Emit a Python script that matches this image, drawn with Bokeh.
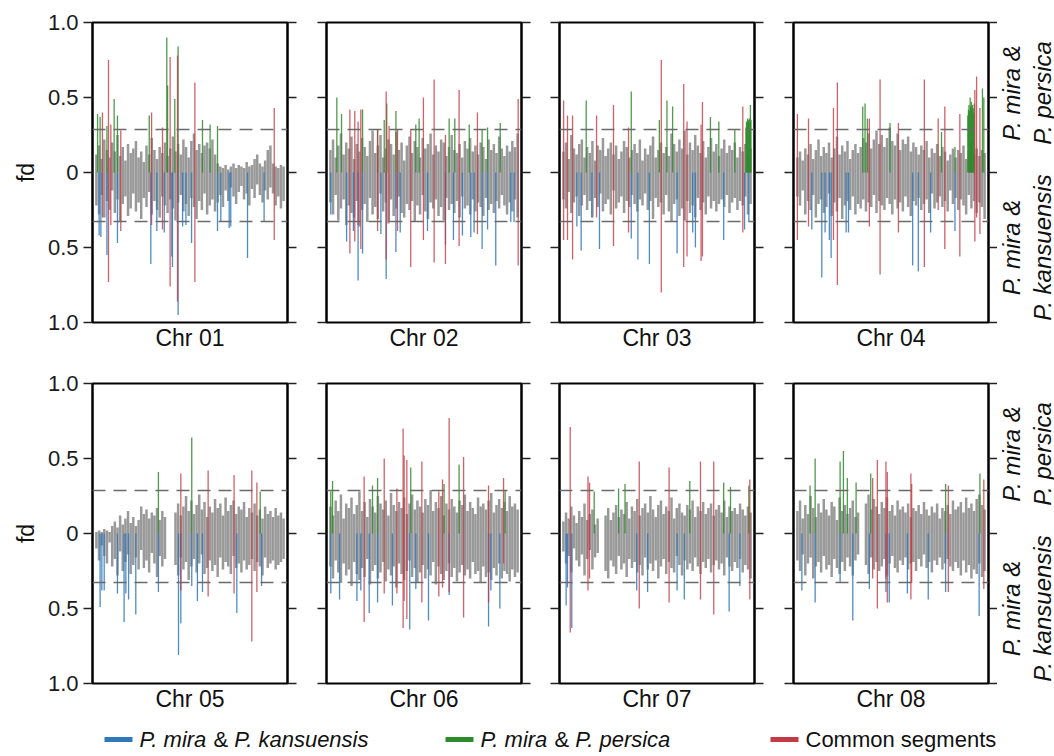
import math
from bokeh.plotting import figure
from bokeh.layouts import column, row
from bokeh.models import Range1d, FixedTicker, Span, LinearAxis
from bokeh.core.properties import value
from bokeh.embed import file_html
from bokeh.resources import INLINE

FONT = "Liberation Sans"
CHROMS = ["Chr 01", "Chr 02", "Chr 03", "Chr 04", "Chr 05", "Chr 06", "Chr 07", "Chr 08"]
Y_TICKS = [-1.0, -0.5, 0.0, 0.5, 1.0]
Y_TICK_LABELS = ["1.0", "0.5", "0", "0.5", "1.0"]
THR_PERSICA = 0.287   # upper dashed threshold
THR_KANSU = 0.327     # lower dashed threshold

BLUE = "#2f78bb"
GREEN = "#2f8a2c"
RED = "#c43a44"
GRAY = "#808080"

# ---- background windows: fd(P. mira & P. persica) up, fd(P. mira & P. kansuensis) down ----
c01_per = [.12,.18,.09,.22,.15,.10,.20,.14,.25,.11,.17,.08,.19,.13,.16,.21,.10,.14,.07,.18,.12,.23,.15,.09,.17,.13,.20,.11,.16,.24,.14,.19,.12,.22,.17,.10,.21,.26,.15,.19,.13,.18,.20,.16,.22,.12,.06,.04,.03,.05,.02,.04,.06,.03,.05,.04,.03,.07,.04,.05,.09,.12,.06,.04,.08,.15,.18,.06,.04,.03,.05,.04]
c01_kan = [.22,.28,.15,.30,.19,.25,.12,.27,.18,.33,.21,.16,.29,.24,.14,.26,.20,.31,.17,.23,.13,.28,.19,.25,.30,.16,.22,.27,.18,.24,.32,.20,.15,.26,.21,.29,.17,.23,.31,.19,.25,.14,.28,.22,.18,.26,.20,.15,.23,.12,.19,.10,.16,.21,.13,.09,.18,.14,.22,.11,.17,.08,.15,.20,.12,.18,.10,.14,.22,.16,.24,.19]
c02_per = [.15,.22,.10,.18,.26,.12,.20,.16,.24,.09,.19,.14,.23,.17,.11,.21,.28,.13,.18,.25,.10,.16,.22,.19,.12,.27,.15,.20,.08,.18,.24,.13,.21,.17,.10,.23,.16,.19,.26,.12,.18,.14,.22,.20,.11,.17,.25,.15,.13,.19,.10,.21,.16,.23,.14,.18,.12,.20,.17,.09,.22,.15,.19,.13,.24,.16,.11,.18,.14,.21,.17,.26]
c02_kan = [.20,.28,.15,.32,.24,.18,.35,.22,.27,.30,.19,.36,.25,.21,.33,.17,.28,.23,.31,.14,.26,.20,.34,.18,.29,.24,.16,.27,.30,.21,.25,.19,.33,.22,.28,.15,.26,.31,.20,.24,.18,.29,.23,.32,.17,.25,.21,.27,.19,.30,.16,.24,.22,.28,.18,.26,.20,.23,.29,.17,.25,.21,.27,.19,.24,.15,.22,.28,.20,.26,.18,.30]
c03_per = [.14,.20,.09,.25,.16,.12,.19,.22,.10,.17,.13,.21,.08,.18,.15,.23,.11,.16,.20,.12,.18,.09,.14,.21,.17,.10,.15,.19,.13,.22,.08,.16,.12,.18,.24,.10,.15,.20,.13,.17,.11,.26,.19,.14,.22,.16,.28,.12,.20,.15,.25,.18,.13,.21,.10,.17,.23,.14,.19,.11,.16,.22,.13,.18,.15,.20,.10,.17,.14,.19,.12,.16]
c03_kan = [.18,.24,.13,.27,.20,.16,.29,.22,.15,.25,.19,.30,.17,.23,.14,.26,.21,.18,.28,.12,.24,.20,.16,.27,.19,.23,.15,.21,.26,.18,.22,.14,.25,.19,.31,.17,.23,.20,.28,.15,.26,.33,.21,.18,.29,.24,.32,.19,.27,.22,.30,.17,.25,.20,.28,.16,.24,.19,.26,.21,.18,.23,.15,.27,.20,.17,.25,.19,.22,.16,.28,.21]
c04_per = [.10,.14,.08,.16,.12,.19,.09,.15,.22,.11,.17,.13,.20,.10,.16,.24,.12,.18,.14,.21,.09,.15,.19,.13,.17,.23,.20,.26,.16,.22,.28,.19,.25,.17,.23,.30,.21,.18,.26,.15,.22,.19,.24,.14,.20,.17,.12,.18,.15,.21,.10,.16,.13,.19,.11,.17,.14,.08,.12,.16,.10,.15,.13,.18,.09,.14,.20,.12,.16,.11,.15,.13]
c04_kan = [.16,.22,.12,.28,.19,.25,.15,.30,.21,.18,.27,.23,.14,.29,.20,.26,.17,.31,.22,.19,.25,.16,.28,.21,.24,.18,.26,.20,.23,.15,.27,.19,.22,.25,.17,.21,.28,.18,.24,.20,.26,.16,.23,.29,.19,.22,.17,.25,.21,.18,.27,.14,.24,.20,.16,.23,.19,.26,.12,.21,.17,.25,.18,.22,.28,.15,.24,.19,.27,.20,.23,.31]
c05_per = [.01,.02,.01,.03,.02,.01,.05,.08,.04,.12,.06,.10,.15,.07,.11,.05,.09,.18,.13,.16,.10,.14,.12,.17,.09,.15,.11,0,0,0,.14,.20,.12,.18,.25,.15,.22,.13,.19,.26,.16,.21,.11,.18,.14,.23,.17,.20,.12,.24,.15,.19,.22,.13,.18,.16,.21,.11,.17,.14,.20,.12,.16,.10,.18,.13,.15,.11,.17,.12,.14,.10]
c05_kan = [.10,.18,.08,.15,.20,.06,.22,.17,.28,.12,.25,.19,.14,.27,.21,.16,.24,.11,.23,.18,.26,.13,.20,.29,.15,.22,.17,0,0,0,.21,.28,.16,.24,.19,.31,.22,.17,.26,.20,.14,.27,.23,.18,.25,.21,.29,.16,.24,.19,.22,.27,.15,.23,.20,.26,.18,.24,.21,.17,.25,.19,.22,.28,.16,.23,.20,.18,.24,.21,.19,.17]
c06_per = [.18,.12,.22,.15,.26,.10,.20,.17,.24,.13,.19,.28,.15,.21,.11,.23,.18,.14,.25,.20,.16,.22,.12,.27,.19,.15,.21,.17,.24,.13,.20,.26,.16,.22,.18,.14,.23,.19,.29,.15,.21,.17,.25,.12,.20,.16,.23,.18,.14,.22,.19,.26,.15,.21,.17,.13,.24,.18,.20,.16,.22,.27,.14,.19,.23,.17,.21,.15,.25,.18,.20,.16]
c06_kan = [.22,.30,.18,.26,.33,.20,.28,.24,.35,.19,.27,.31,.23,.29,.17,.34,.25,.21,.30,.26,.19,.32,.24,.28,.22,.36,.20,.27,.31,.25,.18,.29,.23,.33,.26,.21,.30,.24,.28,.19,.34,.22,.27,.31,.25,.20,.29,.23,.32,.26,.21,.28,.24,.30,.19,.27,.25,.33,.22,.29,.26,.31,.23,.28,.20,.30,.25,.27,.32,.24,.29,.26]
c07_per = [.08,.14,.10,.18,.12,.07,.15,.11,.20,.09,.13,.16,.06,.10,0,0,.12,.17,.09,.14,.19,.11,.16,.13,.21,.10,.18,.15,.23,.12,.17,.20,.14,.25,.16,.11,.19,.22,.13,.18,.15,.24,.10,.17,.20,.14,.12,.19,.16,.22,.11,.18,.15,.21,.13,.17,.20,.12,.16,.19,.14,.22,.11,.18,.15,.17,.13,.20,.16,.12,.18,.14]
c07_kan = [.12,.20,.15,.26,.10,.18,.22,.14,.28,.17,.11,.24,.16,.13,0,0,.25,.30,.18,.22,.27,.15,.24,.20,.29,.17,.23,.19,.26,.21,.28,.16,.24,.20,.25,.18,.30,.22,.17,.27,.19,.23,.26,.15,.21,.28,.18,.24,.20,.25,.16,.22,.27,.19,.23,.17,.26,.21,.18,.24,.20,.28,.16,.22,.25,.19,.23,.17,.26,.21,.24,.30]
c08_per = [.15,.22,.10,.19,.13,.25,.17,.11,.20,.14,.23,.16,.12,.21,.18,.09,.24,.15,.19,.13,.17,.22,.11,.14,0,0,.20,.26,.16,.23,.18,.13,.21,.17,.24,.15,.19,.12,.22,.16,.18,.14,.20,.11,.17,.15,.19,.13,.21,.16,.12,.18,.14,.20,.10,.17,.15,.19,.13,.22,.16,.18,.21,.14,.24,.17,.20,.15,.23,.26,.19,.16]
c08_kan = [.18,.25,.14,.28,.20,.16,.30,.22,.19,.26,.15,.24,.21,.29,.17,.23,.27,.19,.25,.16,.22,.28,.18,.14,0,0,.21,.27,.16,.24,.19,.25,.22,.17,.28,.20,.15,.23,.26,.18,.21,.16,.24,.20,.19,.25,.17,.22,.14,.23,.19,.26,.18,.21,.16,.24,.20,.17,.22,.25,.19,.23,.28,.18,.26,.21,.30,.24,.27,.20,.29,.25]

# ---- significant windows: (position % of chromosome, fd) ----
# blue: P. mira & P. kansuensis (drawn downward)
c01_kan_sig = [(3.4,.42),(4.3,.43),(7.4,.55),(12.8,.47),(29.9,.61),(33.0,.39),(36.8,.40),(40.7,.56),(41.0,.63),(43.9,.95),(46.2,.36),(47.9,.35),(50.8,.47),(64.1,.39),(65.8,.33),(70.1,.37),(70.9,.36),(79.5,.57),(88.0,.33)]
c02_kan_sig = [(2.2,.28),(10.3,.46),(13.8,.39),(16.2,.72),(18.5,.54),(27.9,.41),(30.6,.71),(35.6,.53),(37.8,.40),(51.8,.39),(61.0,.48),(65.1,.45),(69.7,.42),(74.0,.43),(75.7,.40),(79.8,.51),(82.6,.38),(86.8,.62),(94.5,.33),(96.2,.33)]
c03_kan_sig = [(8.9,.36),(11.1,.52),(16.6,.30),(20.5,.51),(36.8,.44),(40.2,.58),(46.1,.61),(60.3,.54),(68.3,.40),(69.7,.50),(84.2,.45),(94.9,.38),(97.1,.33)]
c04_kan_sig = [(9.4,.38),(14.5,.70),(16.2,.40),(18.4,.45),(19.3,.57),(27.0,.40),(28.2,.40),(61.1,.62),(64.0,.66),(70.3,.40),(82.8,.39)]
c05_kan_sig = [(3.9,.49),(4.8,.38),(6.0,.38),(12.8,.40),(16.2,.59),(17.1,.40),(18.5,.44),(22.2,.54),(33.8,.39),(44.1,.81),(45.3,.60),(50.9,.35),(53.8,.45),(56.4,.39),(74.0,.53),(86.7,.35)]
c06_kan_sig = [(2.2,.40),(6.7,.44),(15.6,.45),(17.6,.38),(21.9,.53),(26.2,.46),(33.8,.48),(42.7,.64),(45.8,.37),(52.3,.58),(62.9,.41),(83.1,.62),(84.3,.38),(88.9,.50)]
c07_kan_sig = [(3.4,.48),(4.1,.36),(6.3,.63),(39.6,.38),(45.2,.39),(60.3,.38),(64.0,.44),(87.0,.52),(92.5,.35)]
c08_kan_sig = [(4.3,.38),(11.1,.46),(23.9,.33),(30.4,.58),(38.9,.37),(47.4,.39),(49.1,.46),(58.4,.40),(69.1,.44),(78.0,.39),(95.2,.55)]

# green: P. mira & P. persica (drawn upward)
c01_per_sig = [(2.6,.39),(3.9,.37),(7.4,.31),(11.1,.49),(12.8,.38),(29.1,.38),(38.1,.90),(38.5,.58),(42.2,.49),(43.9,.84),(56.4,.35),(60.3,.32),(64.1,.31)]
c02_per_sig = [(5.3,.50),(7.7,.39),(18.5,.42),(26.2,.29),(29.6,.35),(30.9,.46),(35.6,.41),(45.8,.32),(47.5,.36),(62.9,.36),(65.8,.36),(73.2,.32),(79.8,.29),(82.6,.30),(89.1,.33)]
c03_per_sig = [(13.7,.48),(36.8,.54),(51.2,.35),(55.1,.48),(58.0,.44),(77.4,.37),(81.7,.34),(89.9,.29),(95.6,.30),(95.9,.34),(96.2,.33),(96.5,.36),(96.8,.35),(97.1,.34),(97.4,.36),(97.7,.33),(97.9,.45),(98.2,.35)]
c04_per_sig = [(35.5,.44),(36.7,.46),(37.9,.36),(49.5,.33),(75.9,.27),(82.8,.17),(89.4,.38),(89.7,.42),(90.0,.45),(90.3,.41),(90.6,.50),(90.9,.44),(91.2,.47),(91.5,.42),(91.8,.45),(92.1,.43),(92.4,.40),(92.7,.46),(96.9,.56),(97.6,.50)]
c05_per_sig = [(33.8,.41),(50.9,.64),(86.0,.28)]
c06_per_sig = [(2.2,.28),(3.1,.35),(23.6,.32),(26.2,.37),(43.2,.44),(60.3,.33),(68.0,.46),(91.6,.29)]
c07_per_sig = [(17.8,.28),(30.3,.30),(33.6,.33),(66.8,.35),(84.2,.34),(87.7,.31),(97.1,.32)]
c08_per_sig = [(8.5,.32),(11.1,.50),(23.9,.48),(25.6,.55),(27.6,.37),(32.1,.34),(39.6,.40),(78.0,.33),(95.6,.40)]

# red: common segments (position, fd persica, fd kansuensis)
c01_com = [(5.1,.40,.30),(8.2,.75,.73),(9.4,.32,.35),(14.5,.28,.39),(30.3,.40,.35),(35.9,.30,.38),(39.8,.77,.76),(43.6,.78,.86),(52.5,.60,.73),(93.2,.43,.45)]
c02_com = [(12.0,.42,.54),(14.5,.41,.46),(16.2,.34,.35),(17.6,.42,.51),(26.2,.29,.39),(30.6,.54,.58),(32.1,.31,.33),(36.4,.29,.39),(43.2,.29,.63),(49.7,.50,.45),(55.2,.62,.60),(61.0,.25,.61),(68.0,.55,.49),(77.4,.40,.41),(98.3,.49,.62)]
c03_com = [(2.1,.48,.45),(4.1,.38,.45),(6.7,.38,.58),(19.0,.38,.30),(27.7,.45,.49),(35.4,.30,.40),(52.2,.75,.80),(63.7,.59,.63),(65.4,.34,.56),(72.6,.32,.59),(73.3,.47,.56),(94.0,.44,.40)]
c04_com = [(2.0,.39,.45),(7.7,.36,.36),(20.5,.43,.45),(22.5,.60,.75),(38.9,.36,.36),(44.4,.62,.68),(53.8,.33,.40),(67.1,.62,.63),(74.2,.36,.25),(77.6,.44,.51),(85.3,.39,.56),(93.0,.55,.46),(93.9,.64,.30),(95.6,.43,.41)]
c05_com = [(45.3,.40,.38),(59.3,.42,.42),(72.6,.39,.40),(81.7,.42,.72),(84.3,.34,.39)]
c06_com = [(19.3,.38,.59),(29.6,.50,.40),(36.1,.30,.40),(39.3,.70,.63),(39.8,.52,.45),(41.2,.49,.57),(48.9,.48,.46),(57.6,.28,.42),(59.5,.36,.36),(62.9,.77,.39),(70.3,.51,.56),(83.1,.32,.46),(90.8,.37,.20)]
c07_com = [(5.5,.71,.66),(14.6,.38,.38),(15.4,.34,.30),(40.9,.48,.50),(56.2,.44,.46),(72.3,.48,.44),(79.1,.48,.54),(97.6,.36,.44)]
c08_com = [(40.6,.37,.30),(43.0,.49,.50),(47.4,.48,.30),(48.1,.41,.46),(60.2,.40,.44),(60.6,.33,.33),(79.4,.32,.39),(97.6,.36,.37)]

PANELS = [
    (c01_per, c01_kan, c01_kan_sig, c01_per_sig, c01_com),
    (c02_per, c02_kan, c02_kan_sig, c02_per_sig, c02_com),
    (c03_per, c03_kan, c03_kan_sig, c03_per_sig, c03_com),
    (c04_per, c04_kan, c04_kan_sig, c04_per_sig, c04_com),
    (c05_per, c05_kan, c05_kan_sig, c05_per_sig, c05_com),
    (c06_per, c06_kan, c06_kan_sig, c06_per_sig, c06_com),
    (c07_per, c07_kan, c07_kan_sig, c07_per_sig, c07_com),
    (c08_per, c08_kan, c08_kan_sig, c08_per_sig, c08_com),
]

LEFT = [92, 20, 19, 20]
RIGHT = [19, 19, 19, 8]
TOP = [22, 30]
BOTTOM = [30, 40]
FW, FH = 195, 300
SIDE_W = 58


def positions(n):
    return [2 + i * 96.0 / (n - 1) for i in range(n)]


def style_yaxis(ax, show_labels):
    ax.ticker = FixedTicker(ticks=Y_TICKS)
    ax.major_label_overrides = {t: l for t, l in zip(Y_TICKS, Y_TICK_LABELS)}
    ax.major_tick_out = 9
    ax.major_tick_in = 0
    ax.minor_tick_line_color = None
    ax.major_tick_line_color = "#222222"
    ax.major_tick_line_width = 1.5
    ax.axis_line_color = "black"
    ax.axis_line_width = 2
    ax.major_label_standoff = 5
    ax.major_label_text_font = FONT
    if show_labels:
        ax.major_label_text_color = "#1a1a1a"
        ax.major_label_text_font_size = "22px"
    else:
        ax.major_label_text_color = None
        ax.major_label_text_font_size = "1px"


def make_panel(k):
    ri, ci = divmod(k, 4)
    per, kan, kan_sig, per_sig, com = PANELS[k]
    p = figure(frame_width=FW, frame_height=FH,
               x_range=Range1d(0, 100), y_range=Range1d(-1, 1),
               output_backend="svg", toolbar_location=None,
               min_border_left=LEFT[ci], min_border_right=RIGHT[ci],
               min_border_top=TOP[ri], min_border_bottom=BOTTOM[ri],
               background_fill_color="white", border_fill_color="white")
    p.outline_line_color = "black"
    p.outline_line_width = 2
    p.grid.visible = False

    style_yaxis(p.yaxis[0], ci == 0)
    if ci == 0:
        p.yaxis[0].axis_label = "fd"
        p.yaxis[0].axis_label_text_font = FONT
        p.yaxis[0].axis_label_text_font_style = "normal"
        p.yaxis[0].axis_label_text_font_size = "23px"
        p.yaxis[0].axis_label_standoff = 6
        p.yaxis[0].axis_label_text_color = "#111111"
    rax = LinearAxis()
    style_yaxis(rax, False)
    p.add_layout(rax, "right")

    xa = p.xaxis[0]
    xa.ticker = FixedTicker(ticks=[])
    xa.axis_line_color = None
    xa.major_tick_line_color = None
    xa.minor_tick_line_color = None
    xa.major_label_text_color = None
    xa.major_label_text_font_size = "1px"
    xa.axis_label = CHROMS[k]
    xa.axis_label_text_font = FONT
    xa.axis_label_text_font_style = "normal"
    xa.axis_label_text_font_size = "23px"
    xa.axis_label_text_color = "#111111"
    xa.axis_label_standoff = 2

    # background windows: one segment per window, spanning kansuensis (down) to persica (up)
    n = min(len(per), len(kan))
    xs = positions(n)
    p.segment(x0=xs, y0=[-v for v in kan[:n]], x1=xs, y1=per[:n],
              line_color=GRAY, line_width=2.5, line_alpha=0.8)

    bx = [a for a, b in kan_sig]
    p.segment(x0=bx, y0=0, x1=bx, y1=[-b for a, b in kan_sig], line_color=BLUE, line_width=1.3, line_alpha=0.85)
    gx = [a for a, b in per_sig]
    p.segment(x0=gx, y0=0, x1=gx, y1=[b for a, b in per_sig], line_color=GREEN, line_width=1.3, line_alpha=0.85)
    rx = [a for a, b, c in com]
    p.segment(x0=rx, y0=[-c for a, b, c in com], x1=rx, y1=[b for a, b, c in com],
              line_color=RED, line_width=1.3, line_alpha=0.8)

    for thr in (THR_PERSICA, -THR_KANSU):
        p.add_layout(Span(location=thr, dimension="width", line_color="#6a6a6a",
                          line_width=1.5, line_dash="13 8"))
    return p


def make_side_label(ri):
    p = figure(frame_width=SIDE_W, frame_height=FH,
               x_range=Range1d(0, SIDE_W), y_range=Range1d(-1, 1),
               output_backend="svg", toolbar_location=None,
               x_axis_location=None, y_axis_location=None,
               min_border_left=0, min_border_right=0,
               min_border_top=TOP[ri], min_border_bottom=BOTTOM[ri],
               background_fill_color="white", border_fill_color="white")
    p.outline_line_color = None
    p.grid.visible = False
    kw = dict(angle=math.pi / 2, text_align="center", text_baseline="middle",
              text_font=value(FONT), text_font_style="italic",
              text_font_size="24px", text_color="#111111")
    p.text(x=[14, 45], y=[0.53, 0.53], text=["P. mira &", "P. persica"], **kw)
    p.text(x=[14, 45], y=[-0.5, -0.5], text=["P. mira &", "P. kansuensis"], **kw)
    return p


def make_legend():
    W, H = 1054, 34
    p = figure(frame_width=W, frame_height=H, x_range=Range1d(0, W), y_range=Range1d(0, H),
               output_backend="svg", toolbar_location=None,
               x_axis_location=None, y_axis_location=None,
               min_border=0, background_fill_color="white", border_fill_color="white")
    p.outline_line_color = None
    p.grid.visible = False
    yc = 18
    fs = 22
    it = dict(text_font=value(FONT), text_font_size=f"{fs}px", text_baseline="middle",
              text_align="left", text_color="#111111")
    entries = [(104, BLUE, "P. kansuensis"), (445, GREEN, "P. persica")]
    for x0, col, sp in entries:
        p.segment(x0=[x0], y0=[yc], x1=[x0 + 28], y1=[yc], line_color=col, line_width=5)
        tx = x0 + 35
        p.text(x=[tx], y=[yc], text=["P. mira"], text_font_style="italic", **it)
        tx += 3.167 * fs + 0.2 * fs
        p.text(x=[tx], y=[yc], text=["&"], text_font_style="normal", **it)
        tx += 0.667 * fs + 0.278 * fs
        p.text(x=[tx], y=[yc], text=[sp], text_font_style="italic", **it)
    p.segment(x0=[770], y0=[yc], x1=[798], y1=[yc], line_color=RED, line_width=5)
    p.text(x=[805], y=[yc], text=["Common segments"], text_font_style="normal", **it)
    return p


panels = [make_panel(k) for k in range(8)]
layout = column(
    row(*panels[:4], make_side_label(0)),
    row(*panels[4:], make_side_label(1)),
    make_legend(),
)

open("out.html", "w").write(file_html(layout, INLINE))
